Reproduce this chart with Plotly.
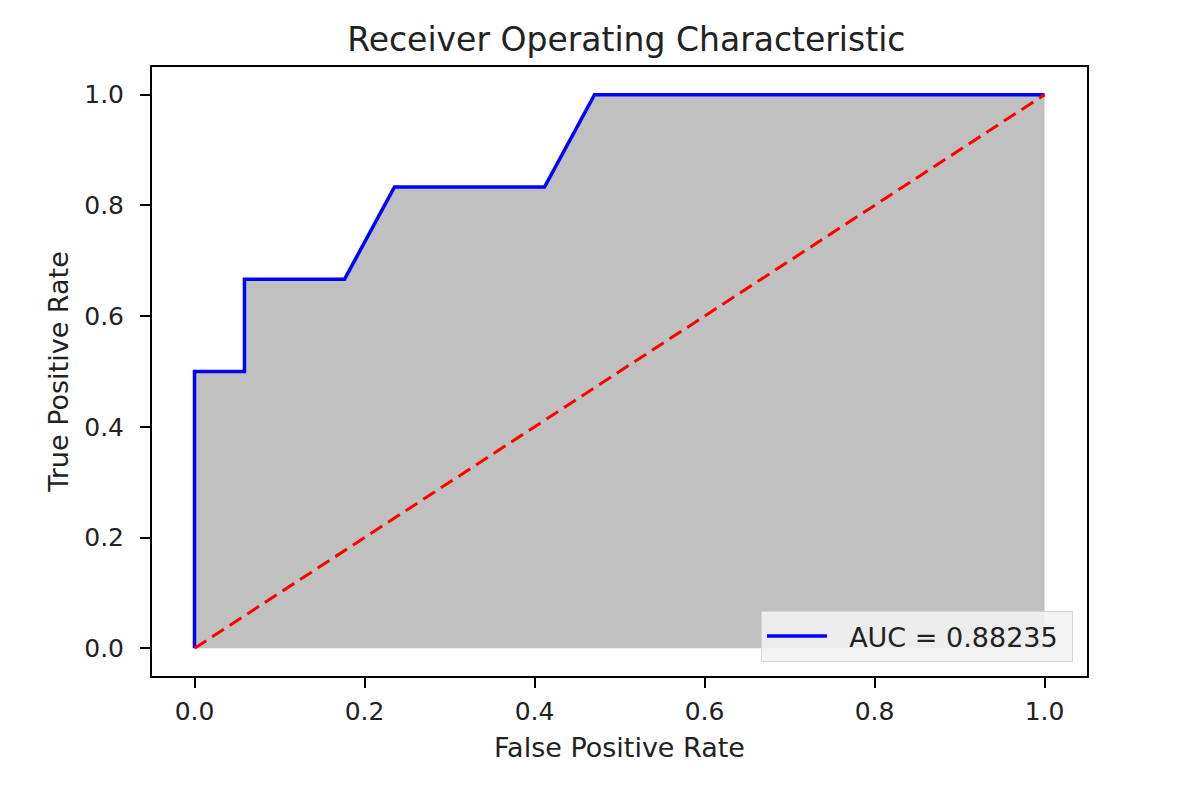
import plotly.graph_objects as go

# ROC data
fpr = [0.0, 0.0, 0.0588, 0.0588, 0.1765, 0.2353, 0.4118, 0.4706, 1.0]
tpr = [0.0, 0.5, 0.5, 0.6667, 0.6667, 0.8333, 0.8333, 1.0, 1.0]
diag_x = [0.0, 1.0]
diag_y = [0.0, 1.0]
auc_label = "AUC = 0.88235"
tick_vals = [0.0, 0.2, 0.4, 0.6, 0.8, 1.0]
tick_text = ["0.0", "0.2", "0.4", "0.6", "0.8", "1.0"]

FONT = "DejaVu Sans"
TXT = "#222"

fig = go.Figure()
fig.add_trace(go.Scatter(x=fpr, y=tpr, mode="lines", fill="tozeroy",
                         fillcolor="#c0c0c0", line=dict(width=0, color="#c0c0c0"),
                         showlegend=False, hoverinfo="skip"))
fig.add_trace(go.Scatter(x=fpr, y=tpr, mode="lines",
                         name="\u00a0\u00a0" + auc_label + "\u00a0",
                         line=dict(color="#0000ff", width=3.5)))
fig.add_trace(go.Scatter(x=diag_x, y=diag_y, mode="lines", showlegend=False,
                         line=dict(color="#ff0000", width=3, dash="14px,7px")))

axis_common = dict(
    range=[-0.05, 1.05], showgrid=False, zeroline=False,
    showline=True, linecolor="black", linewidth=2, mirror=True,
    ticks="outside", ticklen=10, tickwidth=2, tickcolor="black",
    tickvals=tick_vals, ticktext=tick_text,
    tickfont=dict(family=FONT, size=25, color=TXT),
)

fig.update_layout(
    width=1188, height=796,
    paper_bgcolor="white", plot_bgcolor="white",
    margin=dict(l=144, r=109, t=59, b=128),
    title=dict(text="Receiver Operating Characteristic", x=0.5205, xanchor="center",
               y=0.96, yanchor="middle",
               font=dict(family=FONT, size=33, color=TXT)),
    xaxis=dict(**axis_common, ticklabelstandoff=2,
               title=dict(text="False Positive Rate", standoff=13,
                          font=dict(family=FONT, size=27, color=TXT))),
    yaxis=dict(**axis_common, ticklabelstandoff=11,
               title=dict(text="True Positive Rate", standoff=8,
                          font=dict(family=FONT, size=27, color=TXT))),
    legend=dict(x=0.985, y=0.023, xanchor="right", yanchor="bottom",
                itemwidth=60,
                bgcolor="rgba(242,242,242,0.9)", bordercolor="#d6d6d6", borderwidth=1,
                font=dict(family=FONT, size=27, color=TXT)),
)

fig.write_html("out.html")
